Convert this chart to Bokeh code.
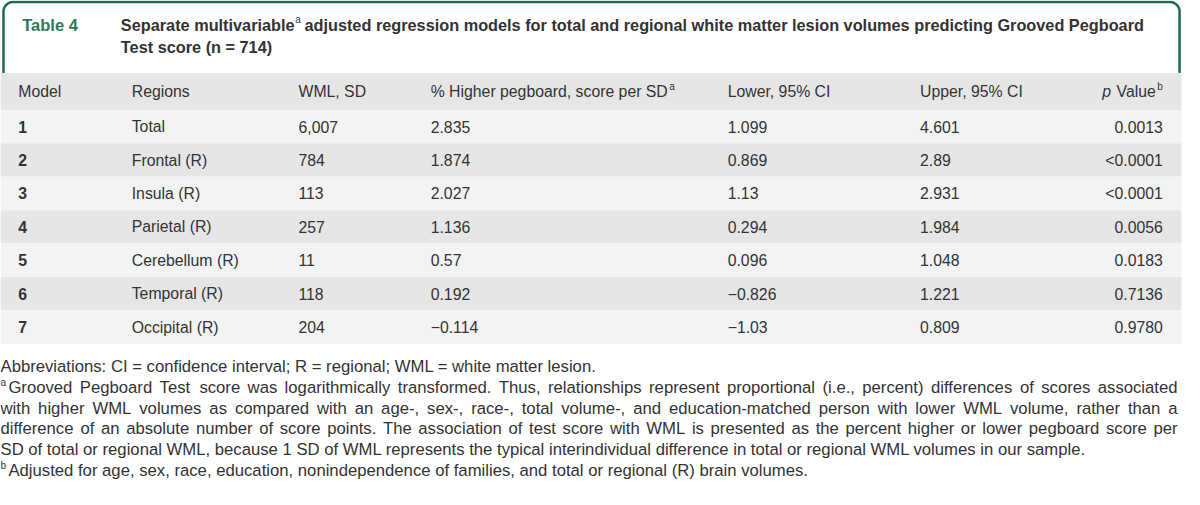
import numpy as np
from bokeh.plotting import figure
from bokeh.models import Range1d
from bokeh.core.properties import value
from bokeh.embed import file_html
from bokeh.resources import INLINE

# ---------------- data ----------------
table_label = "Table 4"
title_piece1 = "Separate multivariable"
title_note = "a"
title_piece2 = "adjusted regression models for total and regional white matter lesion volumes predicting Grooved Pegboard"
title_line2 = "Test score (n = 714)"

col_headers = ["Model", "Regions", "WML, SD", "% Higher pegboard, score per SD", "Lower, 95% CI", "Upper, 95% CI", "Value"]
col_notes = ["", "", "", "a", "", "", "b"]

models = ["1", "2", "3", "4", "5", "6", "7"]
regions = ["Total", "Frontal (R)", "Insula (R)", "Parietal (R)", "Cerebellum (R)", "Temporal (R)", "Occipital (R)"]
wml_sd = ["6,007", "784", "113", "257", "11", "118", "204"]
pct_higher = ["2.835", "1.874", "2.027", "1.136", "0.57", "0.192", "\u22120.114"]
lower_ci = ["1.099", "0.869", "1.13", "0.294", "0.096", "\u22120.826", "\u22121.03"]
upper_ci = ["4.601", "2.89", "2.931", "1.984", "1.048", "1.221", "0.809"]
p_values = ["0.0013", "<0.0001", "<0.0001", "0.0056", "0.0183", "0.7136", "0.9780"]

abbreviations = "Abbreviations: CI = confidence interval; R = regional; WML = white matter lesion."
footnote_a_lines = [
    "Grooved Pegboard Test score was logarithmically transformed. Thus, relationships represent proportional (i.e., percent) differences of scores associated",
    "with higher WML volumes as compared with an age-, sex-, race-, total volume-, and education-matched person with lower WML volume, rather than a",
    "difference of an absolute number of score points. The association of test score with WML is presented as the percent higher or lower pegboard score per",
    "SD of total or regional WML, because 1 SD of WML represents the typical interindividual difference in total or regional WML volumes in our sample.",
]
footnote_b = "Adjusted for age, sex, race, education, nonindependence of families, and total or regional (R) brain volumes."

# ---------------- styles ----------------
W, H = 1184, 489
XR, YR = 1200, 505
KX = XR / W
FONT = "Liberation Sans"
TEXT = "#333333"
GREEN = "#1f6c4d"
GREEN_TXT = "#2b7a5a"
HEAD_BG = "#e6e6e6"
LIGHT_BG = "#f2f3f3"
DARK_BG = "#e6e6e6"
TS = 16.3   # title size
TBS = 15.8  # table size
FS = 16.7   # footnote size
SUP = 10

REG = dict(zip("abcdefghijklmnopqrstuvwxyz",
               [556, 556, 500, 556, 556, 278, 556, 556, 222, 222, 500, 222, 833, 556, 556, 556, 556, 333, 500, 278, 556, 500, 722, 500, 500, 500]))
REG.update(dict(zip("ABCDEFGHIJKLMNOPQRSTUVWXYZ",
                    [667, 667, 722, 722, 667, 611, 778, 722, 278, 500, 667, 556, 833, 722, 778, 667, 778, 722, 667, 611, 722, 667, 944, 667, 667, 611])))
REG.update({" ": 278, "(": 333, ")": 333, "=": 584, ",": 278, ".": 278, "-": 333, "%": 889,
            ":": 278, ";": 278, "<": 584, "\u2212": 584})
for d in "0123456789":
    REG[d] = 556
BOLD = dict(zip("abcdefghijklmnopqrstuvwxyz",
                [556, 611, 556, 611, 556, 333, 611, 611, 278, 278, 556, 278, 889, 611, 611, 611, 611, 389, 556, 333, 611, 556, 778, 556, 556, 500]))
BOLD.update(dict(zip("ABCDEFGHIJKLMNOPQRSTUVWXYZ",
                     [722, 722, 722, 722, 667, 611, 778, 722, 278, 556, 722, 611, 833, 722, 778, 667, 778, 722, 667, 611, 722, 667, 944, 667, 667, 611])))
BOLD.update({" ": 278, "(": 333, ")": 333, "=": 584, ",": 278, ".": 278, "-": 333, "%": 889,
             ":": 333, ";": 333, "<": 584})
for d in "0123456789":
    BOLD[d] = 556


def wd(s, size, bold=False):
    tab = BOLD if bold else REG
    return sum(tab.get(c, 556) for c in s) / 1000.0 * size * KX


p = figure(width=W, height=H, x_range=Range1d(0, XR), y_range=Range1d(YR, 0),
           output_backend="svg", toolbar_location=None, min_border=0,
           x_axis_type=None, y_axis_type=None)
p.grid.visible = False
p.outline_line_color = None
p.background_fill_color = "white"
p.border_fill_color = "white"

groups = {}


def txt(x, y, s, size, color=TEXT, style="normal", align="left"):
    key = (size, color, style, align)
    g = groups.setdefault(key, {"x": [], "y": [], "t": []})
    g["x"].append(x)
    g["y"].append(y)
    g["t"].append(s)


# ---------------- title box ----------------
r = 10
th = np.linspace(np.pi, 1.5 * np.pi, 20)
lx = [3] + list(3 + r + r * np.cos(th))
ly = [75] + list(1.5 + r + r * np.sin(th))
th2 = np.linspace(1.5 * np.pi, 2 * np.pi, 20)
rx = list(1195 - r + r * np.cos(th2)) + [1195]
ry = list(1.5 + r + r * np.sin(th2)) + [75]
p.line(lx + rx, ly + ry, line_color=GREEN, line_width=2.5)

txt(22, 25, table_label, 16.5, GREEN_TXT, "bold")
x = 122
txt(x, 25, title_piece1, TS, TEXT, "bold")
x += wd(title_piece1, TS, True)
txt(x + 0.5, 20, title_note, SUP, TEXT)
x += wd(title_note, SUP) + 1.5 + wd(" ", TS, True) - 2
txt(x, 25, title_piece2, TS, TEXT, "bold")
txt(122, 48, title_line2, TS, TEXT, "bold")

# ---------------- table ----------------
head_top, head_bot = 75, 113
row_h = 34.5
n = len(models)
tops = [head_bot + i * row_h for i in range(n)]
p.quad(left=[0], right=[1197], top=[head_top], bottom=[head_bot], fill_color=HEAD_BG, line_color=None)
p.quad(left=[0] * n, right=[1197] * n, top=tops, bottom=[t + row_h for t in tops],
       fill_color=[LIGHT_BG if i % 2 == 0 else DARK_BG for i in range(n)], line_color=None)

col_x = [18, 133, 302, 436, 737, 932]
hy = (head_top + head_bot) / 2
for cx, h, nt in zip(col_x, col_headers[:6], col_notes[:6]):
    txt(cx, hy, h, TBS)
    if nt:
        txt(cx + wd(h, TBS) + 1.5, hy - 5, nt, SUP)
pr = 1178
sup_w = wd(col_notes[6], SUP)
txt(pr, hy - 5, col_notes[6], SUP, align="right")
vx = pr - sup_w - 1.5
txt(vx, hy, col_headers[6], TBS, align="right")
txt(vx - wd(col_headers[6] + " ", TBS), hy, "p", TBS, style="italic", align="right")

for i in range(n):
    cy = tops[i] + row_h / 2
    txt(col_x[0], cy, models[i], TBS, style="bold")
    txt(col_x[1], cy, regions[i], TBS)
    txt(col_x[2], cy, wml_sd[i], TBS)
    txt(col_x[3], cy, pct_higher[i], TBS)
    txt(col_x[4], cy, lower_ci[i], TBS)
    txt(col_x[5], cy, upper_ci[i], TBS)
    txt(pr, cy, p_values[i], TBS, align="right")

# ---------------- footnotes ----------------
fy0, fdy = 378, 21.5
txt(0, fy0, abbreviations, FS)


def justified(line, x0, x1, y):
    words = line.split(" ")
    widths = [wd(w_, FS) for w_ in words]
    gap = (x1 - x0 - sum(widths)) / (len(words) - 1)
    xx = x0
    for w_, ww in zip(words, widths):
        txt(xx, y, w_, FS)
        xx += ww + gap


txt(0, fy0 + fdy - 5, "a", SUP)
justified(footnote_a_lines[0], 8, 1193, fy0 + fdy)
justified(footnote_a_lines[1], 0, 1193, fy0 + 2 * fdy)
justified(footnote_a_lines[2], 0, 1193, fy0 + 3 * fdy)
txt(0, fy0 + 4 * fdy, footnote_a_lines[3], FS)
txt(0, fy0 + 5 * fdy - 5, "b", SUP)
txt(8, fy0 + 5 * fdy, footnote_b, FS)

for (size, color, style, align), g in groups.items():
    p.text(x=g["x"], y=g["y"], text=g["t"], text_font=value(FONT), text_font_size=f"{size}px",
           text_font_style=style, text_color=color, text_align=align, text_baseline="middle")

open("out.html", "w").write(file_html(p, INLINE))
